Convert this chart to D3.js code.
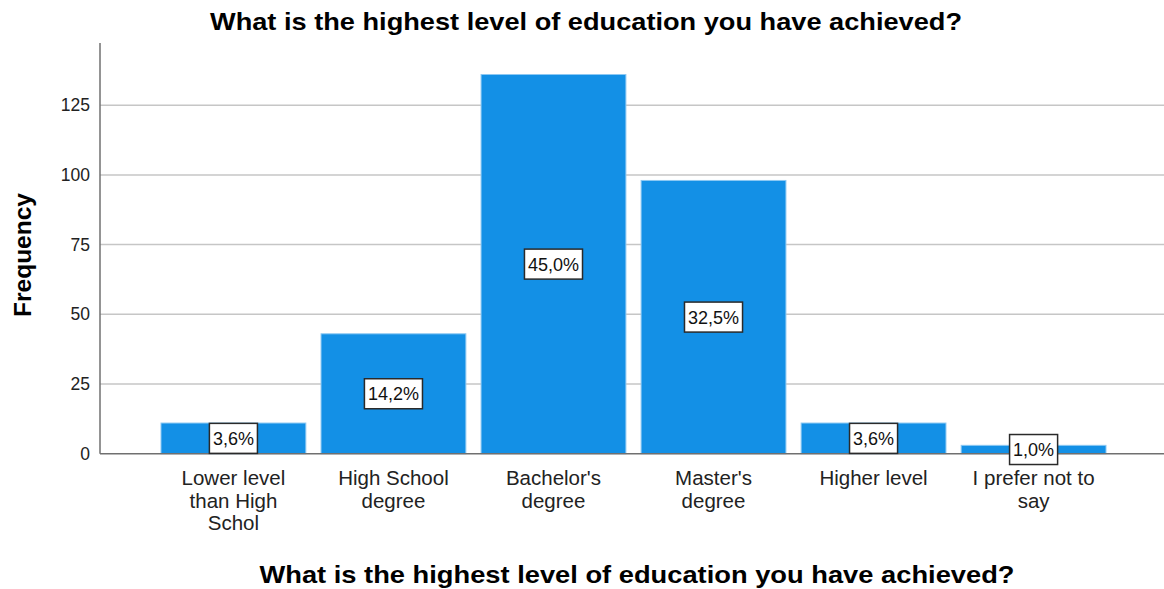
<!DOCTYPE html>
<html>
<head>
<meta charset="utf-8">
<script src="https://cdn.jsdelivr.net/npm/d3@7"></script>
<style>
  body { margin: 0; background: #fff; }
  svg text { font-family: Arial, "Liberation Sans", sans-serif; }
</style>
</head>
<body>
<svg id="chart"></svg>
<script>
// data
const categories = [
  ["Lower level", "than High", "Schol"],
  ["High School", "degree"],
  ["Bachelor's", "degree"],
  ["Master's", "degree"],
  ["Higher level"],
  ["I prefer not to", "say"]
];
const frequencies = [11, 43, 136, 98, 11, 3];
const percentLabels = ["3,6%", "14,2%", "45,0%", "32,5%", "3,6%", "1,0%"];
const yTicks = [0, 25, 50, 75, 100, 125];
const titleText = "What is the highest level of education you have achieved?";

const width = 1164, height = 589;
const svg = d3.select("#chart").attr("width", width).attr("height", height);

const x = d3.scaleBand()
  .domain(d3.range(categories.length))
  .range([161, 1106])
  .paddingInner(0.095)
  .paddingOuter(0);

const y = d3.scaleLinear().domain([0, 147.3]).range([453.7, 43]);

// gridlines
svg.append("g")
  .selectAll("line")
  .data(yTicks.filter(d => d > 0))
  .join("line")
  .attr("x1", 100).attr("x2", width)
  .attr("y1", d => y(d)).attr("y2", d => y(d))
  .attr("stroke", "#c6c6c6")
  .attr("stroke-width", 1.5);

// y axis
const yAxis = svg.append("g")
  .attr("transform", "translate(100,0)")
  .call(d3.axisLeft(y).tickValues(yTicks).tickSize(0).tickPadding(10));
yAxis.select(".domain").remove();
yAxis.selectAll("text")
  .attr("font-size", 17.5)
  .attr("fill", "#222")
  .style("font-family", "Arial, 'Liberation Sans', sans-serif");

// bars
svg.append("g")
  .selectAll("rect")
  .data(frequencies)
  .join("rect")
  .attr("x", (d, i) => x(i))
  .attr("y", d => y(d))
  .attr("width", x.bandwidth())
  .attr("height", d => y(0) - y(d))
  .attr("fill", "#1390e6")
  .attr("stroke", "#8cc8f3")
  .attr("stroke-width", 1);

// axis lines
svg.append("line")
  .attr("x1", 100).attr("x2", 100)
  .attr("y1", 43).attr("y2", y(0))
  .attr("stroke", "#707070").attr("stroke-width", 1.5);
svg.append("line")
  .attr("x1", 100).attr("x2", width)
  .attr("y1", y(0)).attr("y2", y(0))
  .attr("stroke", "#707070").attr("stroke-width", 1.5);

// percentage labels in boxes
const labels = svg.append("g")
  .selectAll("g")
  .data(frequencies)
  .join("g")
  .attr("transform", (d, i) =>
    `translate(${x(i) + x.bandwidth() / 2},${y(d / 2)})`);

labels.append("text")
  .attr("text-anchor", "middle")
  .attr("dy", "0.36em")
  .attr("font-size", 18)
  .attr("fill", "#111")
  .text((d, i) => percentLabels[i]);

labels.each(function () {
  const g = d3.select(this);
  const bb = g.select("text").node().getBBox();
  g.insert("rect", "text")
    .attr("x", bb.x - 3.5)
    .attr("y", -15)
    .attr("width", bb.width + 7)
    .attr("height", 30)
    .attr("fill", "#fff")
    .attr("stroke", "#2a2a2a")
    .attr("stroke-width", 1.5);
});

// category labels
const cat = svg.append("g")
  .selectAll("text")
  .data(categories)
  .join("text")
  .attr("text-anchor", "middle")
  .attr("font-size", 20.5)
  .attr("fill", "#222")
  .attr("x", (d, i) => x(i) + x.bandwidth() / 2)
  .attr("y", 485);
cat.selectAll("tspan")
  .data(d => d)
  .join("tspan")
  .attr("x", function () { return d3.select(this.parentNode).attr("x"); })
  .attr("dy", (d, i) => i === 0 ? 0 : 22.5)
  .text(d => d);

// titles
svg.append("text")
  .attr("x", 586).attr("y", 30)
  .attr("text-anchor", "middle")
  .attr("font-size", 24)
  .attr("font-weight", "bold")
  .attr("textLength", 752)
  .attr("lengthAdjust", "spacingAndGlyphs")
  .text(titleText);

svg.append("text")
  .attr("x", 637).attr("y", 583)
  .attr("text-anchor", "middle")
  .attr("font-size", 24.5)
  .attr("font-weight", "bold")
  .attr("textLength", 755)
  .attr("lengthAdjust", "spacingAndGlyphs")
  .text(titleText);

svg.append("text")
  .attr("transform", "translate(31,255) rotate(-90)")
  .attr("text-anchor", "middle")
  .attr("font-size", 24)
  .attr("font-weight", "bold")
  .attr("textLength", 124)
  .attr("lengthAdjust", "spacingAndGlyphs")
  .text("Frequency");
</script>
</body>
</html>
